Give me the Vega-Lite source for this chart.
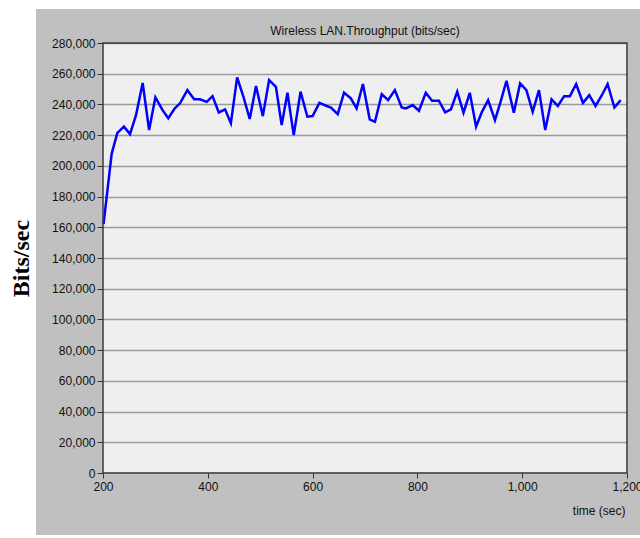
{
  "$schema": "https://vega.github.io/schema/vega-lite/v6.json",
  "width": 524,
  "height": 430,
  "autosize": {"type": "none"},
  "padding": {"left": 103, "top": 43, "right": 13, "bottom": 65},
  "background": "white",
  "title": {
    "text": "Wireless LAN.Throughput (bits/sec)",
    "font": "Liberation Sans",
    "fontSize": 12,
    "fontWeight": "normal",
    "color": "#111111",
    "anchor": "middle",
    "frame": "group",
    "offset": 0,
    "dy": 29
  },
  "config": {
    "view": {"stroke": null, "fill": "#efefef"},
    "axis": {
      "labelFont": "Liberation Sans",
      "labelFontSize": 12,
      "labelColor": "#111111",
      "tickColor": "#333333",
      "domain": false,
      "labelOverlap": false,
      "labelFlush": false,
      "labelBound": false
    }
  },
  "resolve": {"axis": {"x": "independent", "y": "independent"}},
  "layer": [
    {
      "data": {"values": [{"part": "panel-left"}]},
      "mark": {"type": "rect", "fill": "#c0c0c0", "clip": false},
      "encoding": {
        "x": {
          "datum": 72, "type": "quantitative",
          "scale": {"domain": [200, 1200], "nice": false, "zero": false},
          "axis": {
            "zindex": 1, "title": "time (sec)", "orient": "bottom",
            "values": [200, 400, 600, 800, 1000, 1200],
            "labelExpr": "format(datum.value, ',')",
            "grid": false, "tickSize": 5, "labelPadding": 3,
            "titleFont": "Liberation Sans", "titleFontSize": 12, "titleFontWeight": "normal", "titleColor": "#111111",
            "titleX": 522, "titleY": 41, "titleAlign": "right", "titleBaseline": "alphabetic"
          }
        },
        "x2": {"datum": 200},
        "y": {
          "datum": -40400, "type": "quantitative",
          "scale": {"domain": [0, 280000], "nice": false, "zero": false},
          "axis": {
            "zindex": 1, "title": "Bits/sec", "orient": "left",
            "values": [0, 20000, 40000, 60000, 80000, 100000, 120000, 140000, 160000, 180000, 200000, 220000, 240000, 260000, 280000],
            "labelExpr": "format(datum.value, ',')",
            "grid": false, "tickSize": 6, "labelPadding": 2,
            "titleFont": "Liberation Serif", "titleFontSize": 24, "titleFontWeight": "bold", "titleColor": "#000000",
            "titleAngle": -90, "titleX": -82, "titleY": 215, "titleAlign": "center", "titleBaseline": "middle"
          }
        },
        "y2": {"datum": 302100}
      }
    },
    {
      "data": {"values": [{"part": "panel-right"}]},
      "mark": {"type": "rect", "fill": "#c0c0c0", "clip": false},
      "encoding": {
        "x": {"datum": 1200, "type": "quantitative", "axis": null},
        "x2": {"datum": 1240},
        "y": {"datum": -40400, "type": "quantitative", "axis": null},
        "y2": {"datum": 302100}
      }
    },
    {
      "data": {"values": [{"part": "panel-top"}]},
      "mark": {"type": "rect", "fill": "#c0c0c0", "clip": false},
      "encoding": {
        "x": {"datum": 200, "type": "quantitative", "axis": null},
        "x2": {"datum": 1200},
        "y": {"datum": 280000, "type": "quantitative", "axis": null},
        "y2": {"datum": 302100}
      }
    },
    {
      "data": {"values": [{"part": "panel-bottom"}]},
      "mark": {"type": "rect", "fill": "#c0c0c0", "clip": false},
      "encoding": {
        "x": {"datum": 200, "type": "quantitative", "axis": null},
        "x2": {"datum": 1200},
        "y": {"datum": -40400, "type": "quantitative", "axis": null},
        "y2": {"datum": 0}
      }
    },
    {
      "data": {
        "values": [
          {"t": 201, "v": 162000}, {"t": 216.6, "v": 208000}, {"t": 227.4, "v": 221500}, {"t": 240, "v": 225500},
          {"t": 251.5, "v": 220700}, {"t": 263, "v": 233000}, {"t": 275.7, "v": 254000}, {"t": 288, "v": 223300},
          {"t": 300, "v": 244600}, {"t": 313.7, "v": 236300}, {"t": 324.6, "v": 231000}, {"t": 337, "v": 237400},
          {"t": 347, "v": 240700}, {"t": 361, "v": 249300}, {"t": 374, "v": 243300}, {"t": 385, "v": 243300},
          {"t": 398, "v": 241700}, {"t": 409, "v": 245400}, {"t": 421, "v": 234800}, {"t": 433, "v": 236800},
          {"t": 444, "v": 227700}, {"t": 456, "v": 257600}, {"t": 468, "v": 245000}, {"t": 480, "v": 230500},
          {"t": 492, "v": 252000}, {"t": 505, "v": 232400}, {"t": 517, "v": 255900}, {"t": 530, "v": 251500},
          {"t": 541, "v": 226600}, {"t": 552, "v": 247600}, {"t": 564, "v": 220000}, {"t": 577, "v": 248300},
          {"t": 590, "v": 232000}, {"t": 600, "v": 232400}, {"t": 613, "v": 241000}, {"t": 627, "v": 239000},
          {"t": 635, "v": 238000}, {"t": 648, "v": 233700}, {"t": 660, "v": 247600}, {"t": 673, "v": 244000},
          {"t": 684, "v": 237400}, {"t": 696, "v": 253300}, {"t": 709, "v": 230300}, {"t": 719, "v": 228700},
          {"t": 732, "v": 246700}, {"t": 744, "v": 242800}, {"t": 757, "v": 249300}, {"t": 770, "v": 238000},
          {"t": 778, "v": 237400}, {"t": 791, "v": 239600}, {"t": 803, "v": 235900}, {"t": 816, "v": 247600},
          {"t": 828, "v": 242400}, {"t": 841, "v": 242400}, {"t": 853, "v": 234800}, {"t": 864, "v": 236800},
          {"t": 876, "v": 248300}, {"t": 888, "v": 234600}, {"t": 900, "v": 247600}, {"t": 912, "v": 225500},
          {"t": 923, "v": 235000}, {"t": 935, "v": 242800}, {"t": 948, "v": 229800}, {"t": 959, "v": 242000},
          {"t": 970, "v": 255400}, {"t": 984, "v": 234600}, {"t": 996, "v": 253700}, {"t": 1008, "v": 249300},
          {"t": 1020, "v": 235200}, {"t": 1032, "v": 249300}, {"t": 1044, "v": 223300}, {"t": 1056, "v": 243300},
          {"t": 1068, "v": 239000}, {"t": 1080, "v": 245400}, {"t": 1091, "v": 245400}, {"t": 1103, "v": 253300},
          {"t": 1116, "v": 241000}, {"t": 1128, "v": 246000}, {"t": 1140, "v": 239000}, {"t": 1152, "v": 246000},
          {"t": 1163, "v": 253300}, {"t": 1176, "v": 238000}, {"t": 1188, "v": 242800}
        ]
      },
      "mark": {"type": "line", "color": "#0000ff", "strokeWidth": 2.5},
      "encoding": {
        "x": {"field": "t", "type": "quantitative", "axis": null},
        "y": {
          "field": "v", "type": "quantitative",
          "axis": {
            "zindex": 0, "title": null, "orient": "left",
            "values": [0, 20000, 40000, 60000, 80000, 100000, 120000, 140000, 160000, 180000, 200000, 220000, 240000, 260000, 280000],
            "labels": false, "ticks": false, "domain": false,
            "grid": true, "gridColor": "#9a9a9a", "gridWidth": 1.5
          }
        }
      }
    },
    {
      "data": {"values": [{"part": "frame"}]},
      "mark": {"type": "rect", "fillOpacity": 0, "stroke": "#3a3a3a", "strokeWidth": 1.5},
      "encoding": {
        "x": {"datum": 200, "type": "quantitative", "axis": null},
        "x2": {"datum": 1200},
        "y": {"datum": 0, "type": "quantitative", "axis": null},
        "y2": {"datum": 280000}
      }
    }
  ]
}
